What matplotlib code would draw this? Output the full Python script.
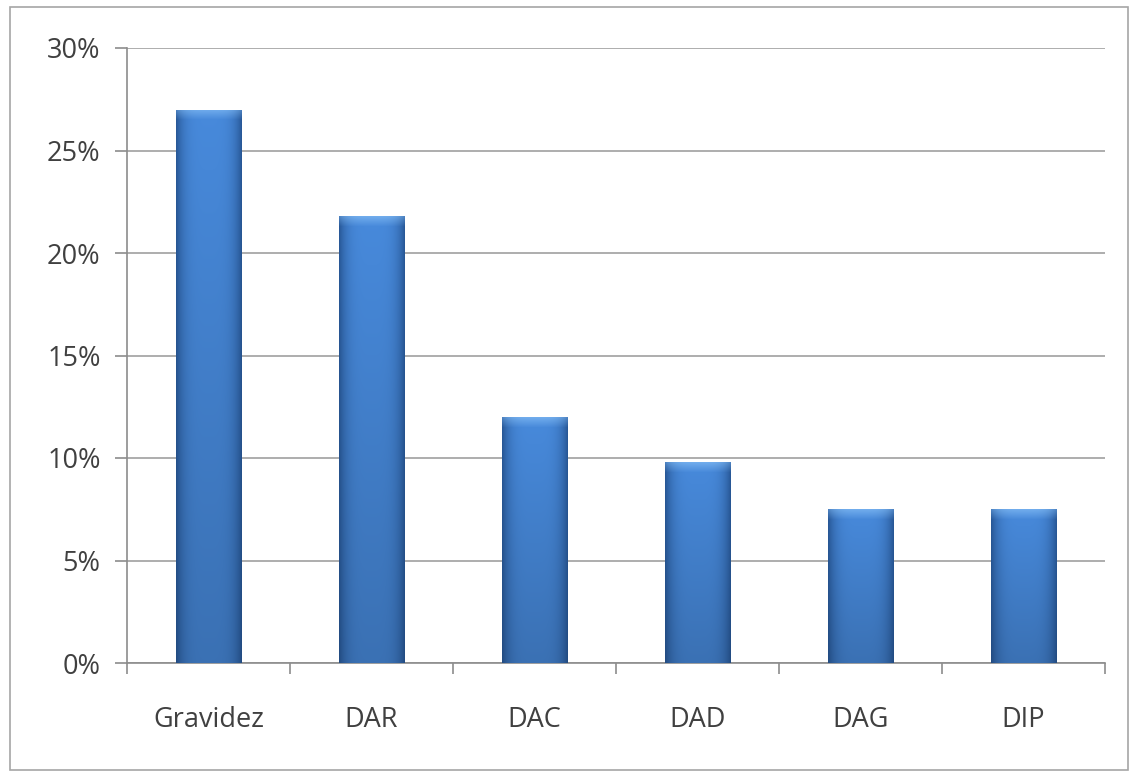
import numpy as np
import matplotlib
matplotlib.use("Agg")
import matplotlib.pyplot as plt
from matplotlib.patches import Rectangle
from matplotlib.ticker import MultipleLocator, FuncFormatter

categories = ["Gravidez", "DAR", "DAC", "DAD", "DAG", "DIP"]
values = [27.0, 21.8, 12.0, 9.8, 7.5, 7.5]

W, H, DPI = 1135, 774, 100
fig = plt.figure(figsize=(W / DPI, H / DPI), dpi=DPI)
fig.patch.set_facecolor("white")

ax = fig.add_axes([127 / W, 1 - 663 / H, (1105 - 127) / W, (663 - 48) / H])
ax.set_xlim(-0.5, len(categories) - 0.5)
ax.set_ylim(0, 30)

# chart frame
fig.add_artist(Rectangle((10 / W, 4 / H), (1128 - 10) / W, (767 - 4) / H,
                         transform=fig.transFigure, fill=False,
                         edgecolor="#a6a6a6", linewidth=1.2))

x = np.arange(len(categories))
bars = ax.bar(x, values, width=0.4, color="#3b78c6", zorder=3, linewidth=0)

# shading for each bar: darker sides, light centre, highlighted top cap
px_per_unit = (663 - 48) / 30.0
base_dark = np.array([0.16, 0.35, 0.60])
base_light = np.array([0.28, 0.54, 0.86])
cap_col = np.array([0.47, 0.70, 0.94])
ncols = 64
u = np.linspace(-1, 1, ncols)
prof = np.clip(1 - np.abs(u) ** 4, 0, 1)
for b, v in zip(bars, values):
    x0 = b.get_x()
    w = b.get_width()
    nrows = max(int(round(v * px_per_unit)), 2)
    img = np.zeros((nrows, ncols, 3))
    for r in range(nrows):
        frac = r / (nrows - 1)  # 0 top, 1 bottom
        light = base_light * (1 - 0.18 * frac)
        dark = base_dark * (1 - 0.15 * frac)
        row = dark[None, :] + (light - dark)[None, :] * prof[:, None]
        if r < 10:
            t = 1 - r / 10
            capmix = cap_col[None, :] * (0.55 + 0.45 * prof[:, None]) + dark[None, :] * (1 - prof[:, None]) * 0.45
            row = row * (1 - t * 0.85) + capmix * t * 0.85
        img[r] = np.clip(row, 0, 1)
    im = ax.imshow(img, extent=[x0, x0 + w, 0, v], aspect="auto",
                   interpolation="bilinear", zorder=4, origin="upper")
    im.set_clip_path(b)

ax.set_xlim(-0.5, len(categories) - 0.5)
ax.set_ylim(0, 30)

ax.yaxis.set_major_locator(MultipleLocator(5))
ax.yaxis.set_major_formatter(FuncFormatter(lambda v, p: f"{v:.0f}%"))
ax.grid(axis="y", color="#a0a0a0", linewidth=1.2, zorder=1)
ax.set_axisbelow(True)

for s in ["top", "right"]:
    ax.spines[s].set_visible(False)
ax.spines["left"].set_color("#8c8c8c")
ax.spines["bottom"].set_color("#8c8c8c")
ax.spines["left"].set_linewidth(1.2)
ax.spines["bottom"].set_linewidth(1.2)

ax.set_xticks(x)
ax.set_xticklabels(categories)
ax.set_xticks(np.arange(-0.5, len(categories)), minor=True)
ax.tick_params(axis="x", which="major", length=0, pad=31)
ax.tick_params(axis="x", which="minor", length=8, width=1.2, color="#8c8c8c", direction="out")
ax.tick_params(axis="y", length=9, width=1.2, color="#8c8c8c", pad=10)

for lab in ax.get_xticklabels() + ax.get_yticklabels():
    lab.set_fontfamily("Open Sans")
    lab.set_fontsize(19.5)
    lab.set_color("#404040")

fig.savefig("out.png", dpi=DPI, facecolor="white")
